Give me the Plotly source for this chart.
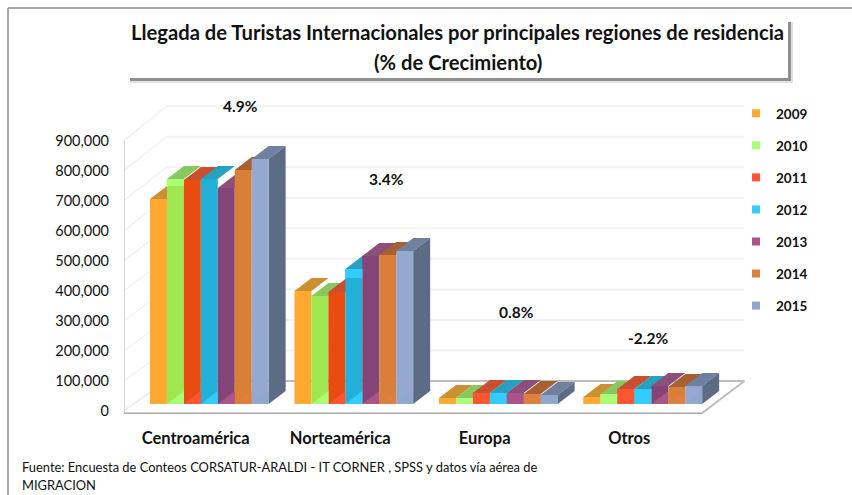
import plotly.graph_objects as go

categories = ["Centroamérica", "Norteamérica", "Europa", "Otros"]
years = ["2009", "2010", "2011", "2012", "2013", "2014", "2015"]
v2009 = [683000, 377000, 20000, 23000]
v2010 = [750000, 360000, 20000, 33000]
v2011 = [747000, 373000, 37000, 50000]
v2012 = [750000, 450000, 37000, 50000]
v2013 = [720000, 493000, 37000, 60000]
v2014 = [780000, 497000, 33000, 57000]
v2015 = [817000, 510000, 30000, 60000]
series = [v2009, v2010, v2011, v2012, v2013, v2014, v2015]
growth = ["4.9%", "3.4%", "0.8%", "-2.2%"]
y_ticks = [0, 100000, 200000, 300000, 400000, 500000, 600000, 700000, 800000, 900000]

front_colors = ["#FFA930", "#9FE650", "#E84C10", "#22B0D8", "#844478", "#D98038", "#94A8D0"]
light_colors = ["#FFAA33", "#AAFF77", "#FF5533", "#33CCFF", "#AA5588", "#DD8040", "#90A8D0"]
top_colors = ["#CC9030", "#88C860", "#C85030", "#28A0C0", "#8A5078", "#A86030", "#7080A0"]
side_color = "#5C6C84"

W, H = 852, 495
L, R, T, B = 124, 748, 96, 414
PX_X = 144.5
PX_Y = 0.3 / 1000
X0 = 195.7
Y0 = 411


def xv(px):
    return (px - X0) / PX_X


def yv(px):
    return (Y0 - px) / PX_Y


x_range = [xv(L), xv(R)]
y_range = [yv(B), yv(T)]
WALL_DX = 43 / PX_X
WALL_DY = 30 / PX_Y
WALL_K = 1.018
BAR_W = 16.95 / PX_X
BAR_L = xv(150)
BAR_DX = 17 / PX_X
BAR_DY = 13 / PX_Y
BASE = 7 / PX_Y
FLOOR = yv(413.5)
END = len(categories) - 0.5
BANDS = {(0, 1): 7 / PX_Y, (1, 3): 9 / PX_Y}

fig = go.Figure()


def poly(xs, ys, color, axes=("x", "y")):
    fig.add_trace(go.Scatter(x=xs, y=ys, mode="lines", fill="toself", fillcolor=color,
                             line=dict(width=0), hoverinfo="skip", showlegend=False,
                             xaxis=axes[0], yaxis=axes[1]))


def seg(xs, ys, color, width=1.5):
    fig.add_trace(go.Scatter(x=xs, y=ys, mode="lines", line=dict(color=color, width=width),
                             hoverinfo="skip", showlegend=False))


# back wall, side wall, floor
for t in y_ticks[1:]:
    wy = t * WALL_K + WALL_DY
    seg([-0.5, -0.5 + WALL_DX], [t, wy], "#F2F2F2")
    seg([-0.5 + WALL_DX, END + WALL_DX], [wy, wy], "#F2F2F2", 2)
seg([-0.5, -0.5 + WALL_DX], [0, WALL_DY], "#E8E8E8")
seg([-0.5 + WALL_DX, END + WALL_DX], [WALL_DY, WALL_DY], "#BDBDBD", 2)
seg([END, END + WALL_DX], [FLOOR, WALL_DY], "#BDBDBD", 2)
seg([-0.5, END], [FLOOR, FLOOR], "#A8A8A8", 2)
seg([-0.5, -0.5], [FLOOR, y_ticks[-1]], "#A8A8A8", 2)
for t in y_ticks:
    seg([xv(L - 5), -0.5], [t, t], "#A8A8A8", 1.5)
for i in range(len(categories) + 1):
    seg([i - 0.5, i - 0.5], [FLOOR, yv(418)], "#A8A8A8", 1.5)

# top and side faces, painted back to front
for c in range(len(categories)):
    for k, vals in enumerate(series):
        l = c + BAR_L + k * BAR_W
        r = l + BAR_W
        top = BASE + vals[c]
        poly([l, r, r + BAR_DX, l + BAR_DX, l], [top, top, top + BAR_DY, top + BAR_DY, top], top_colors[k])
        if k == len(series) - 1:
            poly([r, r + BAR_DX, r + BAR_DX, r, r], [BASE, BASE + BAR_DY, top + BAR_DY, top, BASE], side_color)

# front faces
for k, vals in enumerate(series):
    fig.add_trace(go.Bar(x=list(range(len(categories))), y=vals, base=BASE, width=BAR_W,
                         offset=BAR_L + k * BAR_W, marker=dict(color=front_colors[k], line=dict(width=0)),
                         name=years[k], showlegend=False, xaxis="x2", yaxis="y2"))

# lighter floor reflection on the foot of each front, and lighter bands near some tops
for c in range(len(categories)):
    for k, vals in enumerate(series):
        l = c + BAR_L + k * BAR_W
        r = l + BAR_W
        top = BASE + vals[c]
        if vals[c] < 55000:
            poly([l, r, r, l, l], [BASE, BASE, top, top, BASE], light_colors[k], ("x2", "y2"))
        elif k > 0:
            poly([l, r, r, l], [BASE, BASE, BASE + BAR_DY, BASE], light_colors[k], ("x2", "y2"))
        if (c, k) in BANDS:
            poly([l, r, r, l, l], [top, top, top - BANDS[(c, k)], top - BANDS[(c, k)], top],
                 light_colors[k], ("x2", "y2"))

# legend
for k, y in enumerate(years):
    fig.add_trace(go.Scatter(x=[None], y=[None], mode="markers", name=y, legendgroup=y,
                             marker=dict(symbol="square", size=8, color=light_colors[k]),
                             xaxis="x2", yaxis="y2"))

FONT = "Lato, Carlito, Arial, sans-serif"
INK = "#111111"


def to_paper_x(x):
    return (x - L) / (R - L)


def to_paper_y(y):
    return (B - y) / (B - T)


def rect(x0, y0, x1, y1, color):
    return dict(type="rect", xref="paper", yref="paper", layer="below",
                x0=to_paper_x(x0), x1=to_paper_x(x1), y0=to_paper_y(y1), y1=to_paper_y(y0),
                fillcolor=color, line=dict(width=0))


def frame(x0, y0, x1, y1):
    return dict(type="line", xref="paper", yref="paper", layer="below",
                x0=to_paper_x(x0), x1=to_paper_x(x1), y0=to_paper_y(y0), y1=to_paper_y(y1),
                line=dict(color="#8C8C8C", width=1.5))


shapes = [
    frame(8, 8, W, 8),
    frame(8, 8, 8, H),
    rect(130, 22, 793, 83, "#E2E2E2"),
    rect(130, 22, 791, 81, "#8F8F8F"),
    rect(127, 17, 788, 78, "#FFFFFF"),
]

annotations = []
for text, y in [("Llegada de Turistas Internacionales por principales regiones de residencia", 32),
                ("(% de Crecimiento)", 62)]:
    annotations.append(dict(text="<b>" + text + "</b>", xref="paper", yref="paper", x=to_paper_x(457.5),
                            y=to_paper_y(y), showarrow=False, xanchor="center", yanchor="middle",
                            font=dict(family=FONT, size=20.2, color=INK)))

label_pos = [(240, 106), (386, 179), (516, 312), (648, 338)]
for g, (ax, ay) in zip(growth, label_pos):
    annotations.append(dict(text="<b>" + g + "</b>", xref="paper", yref="paper",
                            x=to_paper_x(ax), y=to_paper_y(ay), showarrow=False,
                            xanchor="center", yanchor="middle",
                            font=dict(family=FONT, size=15.5, color=INK)))
for text, y in [("Fuente: Encuesta de Conteos CORSATUR-ARALDI - IT CORNER , SPSS y datos vía aérea de", 467),
                ("MIGRACION", 485)]:
    annotations.append(dict(text=text, xref="paper", yref="paper", x=to_paper_x(20), y=to_paper_y(y),
                            showarrow=False, xanchor="left", yanchor="middle",
                            font=dict(family=FONT, size=12.9, color=INK)))

fig.update_layout(
    width=W, height=H, autosize=False, margin=dict(l=L, r=W - R, t=T, b=H - B, pad=0),
    paper_bgcolor="white", plot_bgcolor="rgba(0,0,0,0)", barmode="overlay",
    font=dict(family=FONT, color=INK), shapes=shapes, annotations=annotations,
    xaxis=dict(range=x_range, showgrid=False, zeroline=False, showline=False, ticks="",
               tickvals=list(range(len(categories))), ticktext=["<b>%s</b>" % c for c in categories],
               tickfont=dict(family=FONT, size=16.5, color=INK), ticklabelstandoff=12),
    yaxis=dict(range=y_range, showgrid=False, zeroline=False, showline=False, ticks="",
               tickvals=y_ticks, tickformat=",d", tickfont=dict(family=FONT, size=14.5, color=INK),
               ticklabelstandoff=14),
    xaxis2=dict(range=x_range, overlaying="x", visible=False),
    yaxis2=dict(range=y_range, overlaying="y", visible=False),
    legend=dict(x=to_paper_x(736), y=to_paper_y(98), xanchor="left", yanchor="top",
                tracegroupgap=11.5, font=dict(family=FONT, size=13.5, color=INK, weight=700),
                bgcolor="rgba(0,0,0,0)", itemclick=False, itemdoubleclick=False),
    showlegend=True,
)

fig.write_html("out.html", post_script="document.body.style.margin='0';",
               config={"displayModeBar": False})
